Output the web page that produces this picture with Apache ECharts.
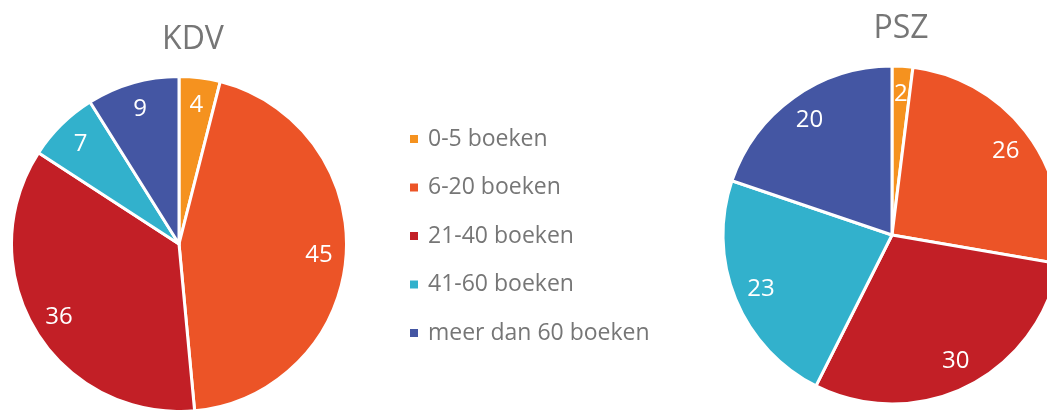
<!DOCTYPE html>
<html>
<head>
<meta charset="utf-8">
<script src="https://cdn.jsdelivr.net/npm/echarts@6/dist/echarts.min.js"></script>
<style>
    html, body {margin: 0; padding: 0; background: #fff;}
    #chart {width: 1047px; height: 410px;}
</style>
</head>
<body>
<div id="chart"></div>
<script>
var categories = ['0-5 boeken', '6-20 boeken', '21-40 boeken', '41-60 boeken', 'meer dan 60 boeken'];
var kdvValues = [4, 45, 36, 7, 9];
var pszValues = [2, 26, 30, 23, 20];
var colors = ['#F5921F', '#EC5427', '#C21F26', '#32B1CC', '#4456A3'];

var font = 'Open Sans';

function toData(values) {
    var list = [];
    for (var i = 0; i < values.length; i++) {
        list.push({name: categories[i], value: values[i]});
    }
    return list;
}

// pie itself, no labels
function pieSeries(values, center, r) {
    return {
        type: 'pie',
        center: center,
        radius: [0, r],
        startAngle: 90,
        clockwise: true,
        avoidLabelOverlap: false,
        label: {show: false},
        labelLine: {show: false},
        itemStyle: {borderColor: '#fff', borderWidth: 3},
        emphasis: {disabled: true},
        data: toData(values)
    };
}

// transparent ring on top, only to put the value labels at ~0.82 r
function labelSeries(values, center, r) {
    return {
        type: 'pie',
        center: center,
        radius: [r * 0.64, r],
        startAngle: 90,
        clockwise: true,
        silent: true,
        avoidLabelOverlap: false,
        itemStyle: {color: 'rgba(0,0,0,0)', borderWidth: 0},
        label: {
            show: true,
            position: 'inside',
            formatter: '{c}',
            color: '#fff',
            fontFamily: font,
            fontSize: 24
        },
        labelLine: {show: false},
        emphasis: {disabled: true},
        data: toData(values)
    };
}

var kdvCenter = [179, 244], kdvR = 167.5;
var pszCenter = [892, 235], pszR = 169;

var myChart = echarts.init(document.getElementById('chart'));
myChart.setOption({
    animation: false,
    color: colors,
    title: [
        {
            text: 'KDV',
            left: 188,
            top: 35,
            textAlign: 'center',
            textVerticalAlign: 'middle',
            textStyle: {fontFamily: font, fontSize: 32, fontWeight: 'normal', color: '#767676'}
        },
        {
            text: 'PSZ',
            left: 896,
            top: 24,
            textAlign: 'center',
            textVerticalAlign: 'middle',
            textStyle: {fontFamily: font, fontSize: 32, fontWeight: 'normal', color: '#767676'}
        }
    ],
    legend: {
        orient: 'vertical',
        left: 408,
        top: 127,
        padding: 0,
        icon: 'rect',
        itemWidth: 10,
        itemHeight: 10,
        itemGap: 24.5,
        selectedMode: false,
        data: categories,
        textStyle: {
            fontFamily: font,
            fontSize: 23,
            lineHeight: 24,
            color: '#767676',
            padding: [0, 0, 0, 4]
        }
    },
    series: [
        pieSeries(kdvValues, kdvCenter, kdvR),
        pieSeries(pszValues, pszCenter, pszR),
        labelSeries(kdvValues, kdvCenter, kdvR),
        labelSeries(pszValues, pszCenter, pszR)
    ]
});
</script>
</body>
</html>
